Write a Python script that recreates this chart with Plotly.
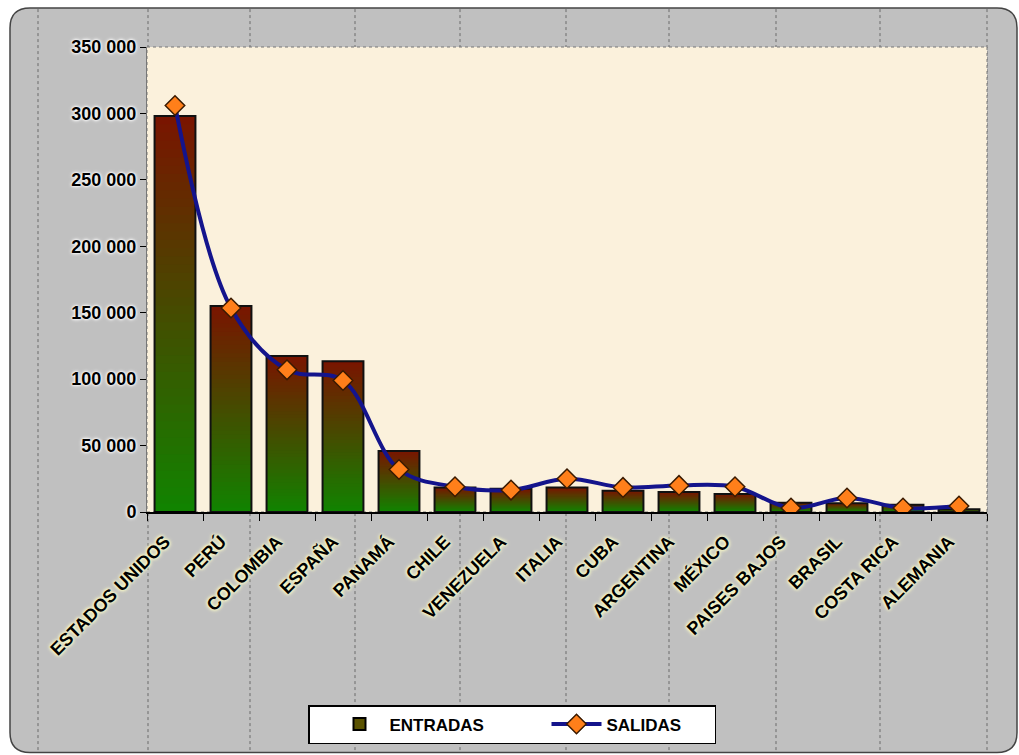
import plotly.graph_objects as go

# ---------------- data ----------------
categories = ["ESTADOS UNIDOS", "PERÚ", "COLOMBIA", "ESPAÑA", "PANAMÁ", "CHILE",
              "VENEZUELA", "ITALIA", "CUBA", "ARGENTINA", "MÉXICO", "PAISES BAJOS",
              "BRASIL", "COSTA RICA", "ALEMANIA"]
entradas = [298000, 155000, 117500, 113500, 46000, 18500, 17500, 18500, 16000,
            15000, 13500, 7000, 6500, 5500, 2000]
salidas = [306000, 153500, 107000, 99000, 32000, 19000, 16500, 25000, 18500,
           20000, 19000, 3000, 10500, 3000, 4500]
y_ticks = [0, 50000, 100000, 150000, 200000, 250000, 300000, 350000]

# ---------------- styling ----------------
W, H = 1019, 755
L, R, T, B = 147, 32, 47, 242
PW, PH = W - L - R, H - T - B
FONT = "Liberation Sans, Arial, sans-serif"
N_STEPS = 48
GREEN = (16, 132, 0)
RED = (122, 20, 0)


def mix(t):
    c = [round(GREEN[i] + (RED[i] - GREEN[i]) * t) for i in range(3)]
    return "rgb(%d,%d,%d)" % tuple(c)


def px(x):
    return (x - L) / PW


def py(y):
    return (H - B - y) / PH


fig = go.Figure()

# gradient bars: overlay of progressively shorter bars (top colour first)
for k in range(N_STEPS, 0, -1):
    t = k / N_STEPS
    fig.add_trace(go.Bar(
        x=categories, y=[v * t for v in entradas],
        marker=dict(color=mix((k - 0.5) / N_STEPS), line=dict(width=0)),
        showlegend=False, hoverinfo="skip"))

# outline of bars
fig.add_trace(go.Bar(
    x=categories, y=entradas, name="ENTRADAS",
    marker=dict(color="rgba(0,0,0,0)", line=dict(color="#111", width=2)),
    showlegend=False))

# legend entry for bars (zero-height, hidden under the axis line)
fig.add_trace(go.Bar(
    x=categories[:1], y=[0], name="ENTRADAS", legendwidth=132, hoverinfo="skip",
    marker=dict(color="#5a5200", line=dict(color="black", width=2))))

fig.add_trace(go.Scatter(
    x=categories, y=salidas, name="SALIDAS", mode="lines+markers", legendwidth=103,
    line=dict(color="#14148c", width=4, shape="spline", smoothing=1),
    marker=dict(symbol="diamond", size=15, color="#ff7f1a",
                line=dict(color="#3a1a00", width=1.5))))

# ---------------- background shapes ----------------
x0, y0, x1, y1, r = 10, 8, 1017, 754, 20
path = ("M {a},{b} L {c},{b} Q {d},{b} {d},{e} L {d},{f} Q {d},{g} {c},{g} "
        "L {a},{g} Q {h},{g} {h},{f} L {h},{e} Q {h},{b} {a},{b} Z").format(
    a=px(x0 + r), b=py(y0), c=px(x1 - r), d=px(x1), e=py(y0 + r),
    f=py(y1 - r), g=py(y1), h=px(x0))
shapes = [dict(type="path", path=path, xref="paper", yref="paper", layer="below",
               fillcolor="#c0c0c0", line=dict(color="#444", width=1.5))]
for vx in [38, 148, 250, 355, 460, 566, 669, 776, 880, 987]:
    shapes.append(dict(type="line", xref="paper", yref="paper", layer="below",
                       x0=px(vx), x1=px(vx), y0=py(y0 + 1), y1=py(y1 - 1),
                       line=dict(color="#6a6a6a", width=1, dash="dot")))
shapes.append(dict(type="rect", xref="paper", yref="paper", layer="below",
                   x0=0, x1=1, y0=0, y1=1, fillcolor="#fbf1dc",
                   line=dict(color="#777", width=1, dash="dot")))

fig.update_layout(
    width=W, height=H,
    margin=dict(l=L, r=R, t=T, b=B, pad=0),
    paper_bgcolor="white", plot_bgcolor="rgba(0,0,0,0)",
    barmode="overlay", bargap=0.27,
    separators=", ",
    shapes=shapes,
    font=dict(family=FONT, color="black"),
    xaxis=dict(type="category", range=[-0.5, len(categories) - 0.5], tickangle=-45,
               ticks="outside", tickson="boundaries", ticklabelstandoff=10,
               ticklabelshift=-10,
               ticklen=7, tickcolor="black", showline=True, linecolor="black",
               linewidth=2, showgrid=False,
               tickfont=dict(family=FONT, size=18, color="black", weight="bold",
                             shadow="0px 0px 3px #ffffc8, 0px 0px 4px #ffffc8, 0px 0px 5px #ffffc8")),
    yaxis=dict(range=[0, 350000], tickvals=y_ticks, tickformat=",d", ticks="outside",
               ticklen=6, tickcolor="black", showline=True, linecolor="#777",
               linewidth=1, showgrid=False, zeroline=False,
               tickfont=dict(family=FONT, size=18, color="black", weight="bold",
                             shadow="0px 0px 2px #fff, 0px 0px 3px #fff, 0px 0px 4px #fff")),
    legend=dict(orientation="h", x=px(308), xanchor="left", y=py(705), yanchor="top",
                bgcolor="white", bordercolor="black", borderwidth=1.5,
                font=dict(family=FONT, size=17, color="black", weight="bold"),
                itemwidth=50, indentation=20, traceorder="normal"),
)

fig.write_html("out.html")
